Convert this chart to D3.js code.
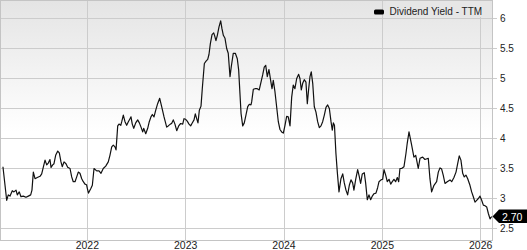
<!DOCTYPE html>
<html>
<head>
<meta charset="utf-8">
<script src="https://cdn.jsdelivr.net/npm/d3@7"></script>
<style>
  html, body { margin: 0; padding: 0; background: #fff; }
  svg { display: block; font-family: "Liberation Sans", Arial, sans-serif; }
</style>
</head>
<body>
<div id="chart"></div>
<script>
// Chart size
const width = 527;
const height = 250;
const plot = { left: 0, top: 0.5, right: 492, bottom: 240.5 };

// Data: decimal year and trailing dividend yield (%)
const years = [
  2021.142, 2021.180, 2021.196, 2021.214, 2021.237, 2021.254, 2021.275, 2021.288, 2021.308, 2021.325,
  2021.349, 2021.376, 2021.400, 2021.424, 2021.437, 2021.451, 2021.468, 2021.491, 2021.519, 2021.536,
  2021.552, 2021.570, 2021.587, 2021.603, 2021.620, 2021.631, 2021.648, 2021.661, 2021.678, 2021.699,
  2021.715, 2021.732, 2021.745, 2021.763, 2021.783, 2021.800, 2021.824, 2021.841, 2021.857, 2021.875,
  2021.892, 2021.908, 2021.925, 2021.943, 2021.959, 2021.976, 2021.992, 2022.000, 2022.012, 2022.037,
  2022.051, 2022.068, 2022.095, 2022.119, 2022.139, 2022.162, 2022.187, 2022.213, 2022.230, 2022.248,
  2022.264, 2022.281, 2022.292, 2022.309, 2022.322, 2022.340, 2022.350, 2022.366, 2022.383, 2022.400,
  2022.417, 2022.434, 2022.444, 2022.457, 2022.472, 2022.492, 2022.512, 2022.529, 2022.546, 2022.563,
  2022.573, 2022.594, 2022.614, 2022.630, 2022.647, 2022.661, 2022.678, 2022.695, 2022.715, 2022.736,
  2022.756, 2022.780, 2022.807, 2022.823, 2022.844, 2022.857, 2022.874, 2022.891, 2022.909, 2022.929,
  2022.949, 2022.970, 2022.983, 2023.000, 2023.016, 2023.034, 2023.051, 2023.064, 2023.085, 2023.098,
  2023.112, 2023.125, 2023.139, 2023.156, 2023.169, 2023.190, 2023.207, 2023.224, 2023.237, 2023.251,
  2023.268, 2023.285, 2023.295, 2023.308, 2023.322, 2023.339, 2023.356, 2023.369, 2023.383, 2023.400,
  2023.417, 2023.433, 2023.451, 2023.464, 2023.484, 2023.505, 2023.525, 2023.539, 2023.552, 2023.563,
  2023.580, 2023.596, 2023.613, 2023.631, 2023.647, 2023.664, 2023.671, 2023.688, 2023.705, 2023.728,
  2023.748, 2023.766, 2023.783, 2023.799, 2023.814, 2023.830, 2023.847, 2023.864, 2023.878, 2023.891,
  2023.908, 2023.925, 2023.942, 2023.959, 2023.976, 2023.993, 2024.010, 2024.027, 2024.043, 2024.061,
  2024.078, 2024.094, 2024.111, 2024.129, 2024.149, 2024.162, 2024.176, 2024.190, 2024.206, 2024.223,
  2024.237, 2024.251, 2024.264, 2024.277, 2024.292, 2024.308, 2024.325, 2024.342, 2024.359, 2024.376,
  2024.393, 2024.410, 2024.427, 2024.444, 2024.461, 2024.478, 2024.491, 2024.502, 2024.513, 2024.528,
  2024.542, 2024.559, 2024.579, 2024.597, 2024.613, 2024.630, 2024.647, 2024.664, 2024.681, 2024.698,
  2024.711, 2024.729, 2024.749, 2024.765, 2024.779, 2024.796, 2024.816, 2024.830, 2024.847, 2024.864,
  2024.881, 2024.898, 2024.915, 2024.935, 2024.952, 2024.966, 2024.986, 2025.003, 2025.017, 2025.034,
  2025.050, 2025.068, 2025.085, 2025.101, 2025.118, 2025.135, 2025.152, 2025.166, 2025.179, 2025.196,
  2025.220, 2025.240, 2025.253, 2025.271, 2025.298, 2025.321, 2025.339, 2025.349, 2025.365, 2025.383,
  2025.410, 2025.433, 2025.467, 2025.484, 2025.501, 2025.525, 2025.552, 2025.569, 2025.586, 2025.603,
  2025.619, 2025.637, 2025.660, 2025.688, 2025.705, 2025.728, 2025.749, 2025.766, 2025.782, 2025.799,
  2025.817, 2025.833, 2025.850, 2025.868, 2025.891, 2025.908, 2025.925, 2025.942, 2025.959, 2025.976,
  2025.993, 2026.010, 2026.027, 2026.044, 2026.061, 2026.078, 2026.095, 2026.112
];
const yields = [
  3.53, 2.97, 3.06, 3.04, 3.13, 3.11, 3.14, 3.06, 3.11, 3.03,
  3.04, 3.02, 3.04, 3.06, 3.14, 3.44, 3.33, 3.35, 3.37, 3.41,
  3.52, 3.64, 3.56, 3.59, 3.65, 3.52, 3.56, 3.58, 3.72, 3.79,
  3.76, 3.61, 3.53, 3.61, 3.58, 3.52, 3.50, 3.36, 3.28, 3.28,
  3.36, 3.44, 3.42, 3.33, 3.28, 3.24, 3.23, 3.17, 3.09, 3.17,
  3.22, 3.50, 3.46, 3.46, 3.42, 3.50, 3.54, 3.61, 3.72, 3.86,
  3.89, 3.86, 3.81, 4.21, 4.24, 4.22, 4.28, 4.39, 4.28, 4.22,
  4.28, 4.33, 4.36, 4.24, 4.17, 4.26, 4.31, 4.26, 4.19, 4.11,
  4.17, 4.08, 4.17, 4.28, 4.36, 4.40, 4.36, 4.47, 4.58, 4.67,
  4.53, 4.36, 4.19, 4.21, 4.24, 4.25, 4.31, 4.24, 4.13, 4.21,
  4.25, 4.24, 4.33, 4.32, 4.29, 4.24, 4.21, 4.25, 4.31, 4.41,
  4.33, 4.26, 4.47, 4.54, 4.83, 5.25, 5.29, 5.32, 5.40, 5.58,
  5.73, 5.76, 5.71, 5.63, 5.72, 5.86, 5.96, 5.83, 5.72, 5.67,
  5.50, 5.42, 5.03, 5.20, 5.42, 5.42, 5.33, 5.14, 4.75, 4.42,
  4.21, 4.26, 4.39, 4.53, 4.57, 4.56, 4.61, 4.82, 4.83, 4.83,
  4.81, 4.94, 5.06, 5.19, 5.22, 5.03, 5.15, 4.97, 4.83, 4.97,
  4.78, 4.53, 4.28, 4.15, 4.11, 4.09, 4.22, 4.37, 4.36, 4.21,
  4.69, 4.89, 4.83, 5.00, 5.07, 5.00, 4.81, 4.92, 4.98, 4.94,
  4.58, 4.83, 5.03, 5.11, 4.92, 4.53, 4.44, 4.28, 4.18, 4.21,
  4.28, 4.39, 4.52, 4.56, 4.50, 4.28, 4.14, 4.26, 4.22, 3.75,
  3.44, 3.11, 3.33, 3.41, 3.26, 3.14, 3.06, 3.22, 3.31, 3.26,
  3.14, 3.32, 3.48, 3.37, 3.25, 3.41, 3.43, 3.26, 2.98, 3.06,
  2.98, 3.04, 3.08, 3.09, 3.18, 3.28, 3.31, 3.32, 3.48, 3.39,
  3.28, 3.32, 3.24, 3.28, 3.32, 3.28, 3.35, 3.28, 3.50, 3.50,
  3.53, 3.75, 3.92, 4.11, 3.89, 3.69, 3.72, 3.64, 3.50, 3.67,
  3.69, 3.65, 3.67, 3.33, 3.11, 3.22, 3.28, 3.44, 3.51, 3.49,
  3.39, 3.25, 3.28, 3.31, 3.28, 3.35, 3.44, 3.58, 3.71, 3.64,
  3.42, 3.36, 3.39, 3.33, 3.22, 3.11, 3.03, 2.94, 2.97, 3.00,
  3.04, 2.97, 2.89, 2.88, 2.86, 2.75, 2.66, 2.70
];

// Axis ticks
const xTicks = [2022, 2023, 2024, 2025, 2026];
const yTicks = [2.5, 3, 3.5, 4, 4.5, 5, 5.5, 6];
const seriesName = "Dividend Yield - TTM";
const lastLabel = "2.70";

const COLORS = {
  grid: "#cccccc",
  border: "#c4c4c4",
  line: "#111111",
  text: "#222222"
};

const data = years.map((yr, i) => ({ yr, v: yields[i] }));

const x = d3.scaleLinear()
  .domain([2021.112, 2026.115])
  .range([plot.left, plot.right]);

const y = d3.scaleLinear()
  .domain([2.3, 6.3])
  .range([plot.bottom, plot.top]);

const crisp = v => Math.floor(v) + 0.5;

const svg = d3.select("#chart")
  .append("svg")
  .attr("width", width)
  .attr("height", height);

// Background gradient
const defs = svg.append("defs");
const grad = defs.append("linearGradient")
  .attr("id", "bg")
  .attr("x1", 0).attr("y1", 0)
  .attr("x2", 0).attr("y2", 1);
grad.append("stop").attr("offset", "0%").attr("stop-color", "#e4e4e4");
grad.append("stop").attr("offset", "55%").attr("stop-color", "#ffffff");
grad.append("stop").attr("offset", "100%").attr("stop-color", "#ffffff");

svg.append("rect")
  .attr("x", plot.left)
  .attr("y", plot.top)
  .attr("width", plot.right - plot.left)
  .attr("height", plot.bottom - plot.top)
  .attr("fill", "url(#bg)");

// Horizontal grid + right ticks
svg.append("g")
  .selectAll("line")
  .data(yTicks)
  .join("line")
  .attr("x1", plot.left)
  .attr("x2", plot.right + 5)
  .attr("y1", d => crisp(y(d)))
  .attr("y2", d => crisp(y(d)))
  .attr("stroke", COLORS.grid)
  .attr("stroke-width", 1);

// Vertical grid
svg.append("g")
  .selectAll("line")
  .data(xTicks)
  .join("line")
  .attr("x1", d => crisp(x(d)))
  .attr("x2", d => crisp(x(d)))
  .attr("y1", plot.top)
  .attr("y2", plot.bottom)
  .attr("stroke", COLORS.grid)
  .attr("stroke-width", 1);

// Plot border
svg.append("rect")
  .attr("x", plot.left + 0.5)
  .attr("y", plot.top)
  .attr("width", plot.right - plot.left)
  .attr("height", plot.bottom - plot.top)
  .attr("fill", "none")
  .attr("stroke", COLORS.border)
  .attr("stroke-width", 1);

// Y labels (right)
svg.append("g")
  .selectAll("text")
  .data(yTicks)
  .join("text")
  .attr("x", plot.right + 8)
  .attr("y", d => y(d) + 3.5)
  .attr("font-size", 10)
  .attr("fill", COLORS.text)
  .text(d => d3.format("")(d));

// X labels
svg.append("g")
  .selectAll("text")
  .data(xTicks)
  .join("text")
  .attr("x", d => x(d))
  .attr("y", 249)
  .attr("text-anchor", "middle")
  .attr("font-size", 10.5)
  .attr("fill", COLORS.text)
  .text(d => d);

// Series line
const line = d3.line()
  .x(d => x(d.yr))
  .y(d => y(d.v));

svg.append("path")
  .datum(data)
  .attr("d", line)
  .attr("fill", "none")
  .attr("stroke", COLORS.line)
  .attr("stroke-width", 1.2)
  .attr("stroke-linejoin", "round");

// Legend
svg.append("rect")
  .attr("x", 386)
  .attr("y", 1)
  .attr("width", 104)
  .attr("height", 16)
  .attr("fill", "#e6e6e6");

svg.append("rect")
  .attr("x", 374)
  .attr("y", 9.5)
  .attr("width", 10)
  .attr("height", 5)
  .attr("rx", 1.5)
  .attr("fill", "#000");

svg.append("text")
  .attr("x", 389.5)
  .attr("y", 15)
  .attr("font-size", 10)
  .attr("fill", COLORS.text)
  .text(seriesName);

// Last value marker
const last = data[data.length - 1];
const ly = y(last.v);
svg.append("path")
  .attr("d", `M${plot.right + 0.5},${ly} L${plot.right + 7},${ly - 7} L${width},${ly - 7} L${width},${ly + 6.5} L${plot.right + 7},${ly + 6.5} Z`)
  .attr("fill", "#000");

svg.append("text")
  .attr("x", plot.right + 10)
  .attr("y", ly + 4)
  .attr("font-size", 10.5)
  .attr("fill", "#fff")
  .text(lastLabel);
</script>
</body>
</html>
